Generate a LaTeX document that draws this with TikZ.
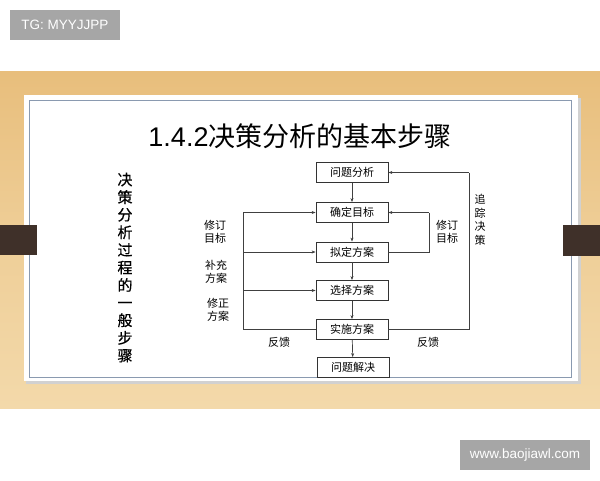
\documentclass[tikz,border=0pt]{standalone}
\usepackage{fontspec}
\setmainfont{Liberation Sans}
\newfontfamily\cjk{Noto Sans CJK SC}
\newfontfamily\cjkbold[FakeBold=0.6]{Noto Sans CJK SC}
\usetikzlibrary{arrows.meta}
\definecolor{woodA}{HTML}{E8BE7C}
\definecolor{woodB}{HTML}{F3D9AA}
\definecolor{tabcol}{HTML}{3F3029}
\definecolor{framecol}{HTML}{8A9AB0}
\definecolor{tagcol}{HTML}{A6A6A6}
\tikzset{
  stepbox/.style={draw=black!80, line width=0.8pt, minimum width=72pt, minimum height=20pt, inner sep=0pt, font=\cjk\fontsize{11}{11}\selectfont, fill=white},
  flow/.style={draw=black!75, line width=0.7pt, -{Stealth[length=4pt,width=3pt]}},
  plain/.style={draw=black!75, line width=0.7pt},
  lab/.style={font=\cjk\fontsize{11}{13}\selectfont, align=center, inner sep=0pt},
  vlab/.style={font=\cjkbold\fontsize{15}{17.6}\selectfont, align=center, inner sep=0pt},
  tagbox/.style={fill=tagcol, text=white, minimum height=30pt, inner sep=0pt, font=\fontsize{13.5}{13.5}\selectfont},
}
\begin{document}
\begin{tikzpicture}[x=1pt,y=-1pt]
\useasboundingbox (0,0) rectangle (600,480);
\fill[white] (0,0) rectangle (600,480);
% wood band
\shade[top color=woodA, bottom color=woodB, middle color=woodB!60!woodA] (0,71) rectangle (600,408);
% slide shadow and slide
\fill[black!18] (26,98) rectangle (581,384);
\fill[white] (24,95) rectangle (578,381);
\draw[framecol, line width=1pt] (29,100) rectangle (571,377);
% tabs
\fill[tabcol] (0,225) rectangle (37,255);
\fill[tabcol] (563,225) rectangle (600,256);
% tags
\node[tagbox, minimum width=110pt] (tag) at (65,25) {TG: MYYJJPP};
\node[tagbox, minimum width=130pt] (site) at (525,455) {www.baojiawl.com};
% title
\node[font=\cjk\fontsize{27}{27}\selectfont, inner sep=0pt] (title) at (300,136) {{\fontspec{Liberation Sans}1.4.2}决策分析的基本步骤};
% vertical title
\node[vlab] (vt) at (125,267.5) {决\\策\\分\\析\\过\\程\\的\\一\\般\\步\\骤};
% boxes
\node[stepbox] (b1) at (352,172.5) {问题分析};
\node[stepbox] (b2) at (352,212.5) {确定目标};
\node[stepbox] (b3) at (352,252) {拟定方案};
\node[stepbox] (b4) at (352,290.5) {选择方案};
\node[stepbox] (b5) at (352,329.5) {实施方案};
\node[stepbox] (b6) at (353,367.5) {问题解决};
\draw[flow] (b1) -- (b2);
\draw[flow] (b2) -- (b3);
\draw[flow] (b3) -- (b4);
\draw[flow] (b4) -- (b5);
\draw[flow] (b5) -- (b6);
% left feedback
\coordinate (L5) at (243,329.5);
\coordinate (L2) at (243,212.5);
\coordinate (L3) at (243,252);
\coordinate (L4) at (243,290.5);
\draw[plain] (b5.west) -- (L5) -- (L2);
\draw[flow] (L2) -- (b2.west);
\draw[flow] (L3) -- (b3.west);
\draw[flow] (L4) -- (b4.west);
% right inner loop
\coordinate (R3) at (429,252);
\coordinate (R2) at (429,212.5);
\draw[plain] (b3.east) -- (R3) -- (R2);
\draw[flow] (R2) -- (b2.east);
% right outer loop
\coordinate (O5) at (469,329.5);
\coordinate (O1) at (469,172.5);
\draw[plain] (b5.east) -- (O5) -- (O1);
\draw[flow] (O1) -- (b1.east);
% labels
\node[lab] (l1) at (215,232) {修订\\目标};
\node[lab] (l2) at (216,272) {补充\\方案};
\node[lab] (l3) at (218,310) {修正\\方案};
\node[lab] (l4) at (279,342) {反馈};
\node[lab] (l5) at (447,232) {修订\\目标};
\node[lab] (l6) at (428,342) {反馈};
\node[lab, font=\cjk\fontsize{11}{13.5}\selectfont] (l7) at (480,220) {追\\踪\\决\\策};
\end{tikzpicture}
\end{document}
